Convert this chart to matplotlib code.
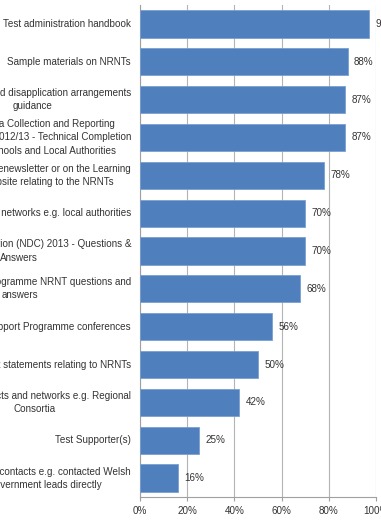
import numpy as np
import matplotlib
matplotlib.use("Agg")
from matplotlib import pyplot as plt
from matplotlib import transforms

# Survey sources of information (top to bottom, as in the chart)
labels = [
    "Test administration handbook",
    "Sample materials on NRNTs",
    "Test access and disapplication arrangements\nguidance",
    "National Data Collection and Reporting\nArrangements 2012/13 - Technical Completion\nNotes for Schools and Local Authorities",
    "Articles in the enewsletter or on the Learning\nWales website relating to the NRNTs",
    "Informal networks e.g. local authorities",
    "National Data Collection (NDC) 2013 - Questions &\nAnswers",
    "National Support Programme NRNT questions and\nanswers",
    "National Support Programme conferences",
    "Welsh Government statements relating to NRNTs",
    "Formal contacts and networks e.g. Regional\nConsortia",
    "Test Supporter(s)",
    "Personal contacts e.g. contacted Welsh\nGovernment leads directly",
]
values = [97, 88, 87, 87, 78, 70, 70, 68, 56, 50, 42, 25, 16]
xticks = [0, 20, 40, 60, 80, 100]
xticklabels = ["0%", "20%", "40%", "60%", "80%", "100%"]

plt.rcParams['font.family'] = ['Liberation Sans', 'DejaVu Sans']
text_color = '#333333'
grid_color = '#b4b4b4'
axis_color = '#a0a0a0'
fs = 7.15

W, H = 381, 521
fig = plt.figure(figsize=(W / 100, H / 100), dpi=100)
ax = fig.add_axes([140 / W, 24 / H, 236 / W, 492 / H])

y = np.arange(len(values))
ax.barh(y, values, height=0.72, color='#4f7fbc', edgecolor='#7a9fd0', linewidth=0.6, zorder=3)

ax.set_xlim(0, 100)
ax.set_ylim(len(values) - 0.5, -0.5)

ax.set_xticks(xticks)
ax.set_xticklabels(xticklabels, fontsize=fs, color=text_color)
ax.tick_params(axis='x', length=3, width=0.8, color=axis_color, pad=3.5)
ax.xaxis.grid(True, color=grid_color, linewidth=0.8, zorder=0)
ax.set_yticks([])

for side in ['top', 'right']:
    ax.spines[side].set_visible(False)
for side in ['left', 'bottom']:
    ax.spines[side].set_color(axis_color)
    ax.spines[side].set_linewidth(0.8)

# category labels, right aligned next to the axis, lines centered
trans = transforms.blended_transform_factory(
    transforms.offset_copy(ax.transAxes, fig=fig, x=-9 / 100 * 72, units='points'), ax.transData)
for yi, lab in zip(y, labels):
    ax.text(0, yi, lab, transform=trans, ha='right', va='center', multialignment='center',
            fontsize=fs, color=text_color, linespacing=1.38)

# value labels
for yi, v in zip(y, values):
    ax.annotate(f"{v}%", (v, yi), xytext=(4.5, 0), textcoords='offset points',
                ha='left', va='center', fontsize=fs, color=text_color, annotation_clip=False)

fig.savefig("out.png", dpi=100)
